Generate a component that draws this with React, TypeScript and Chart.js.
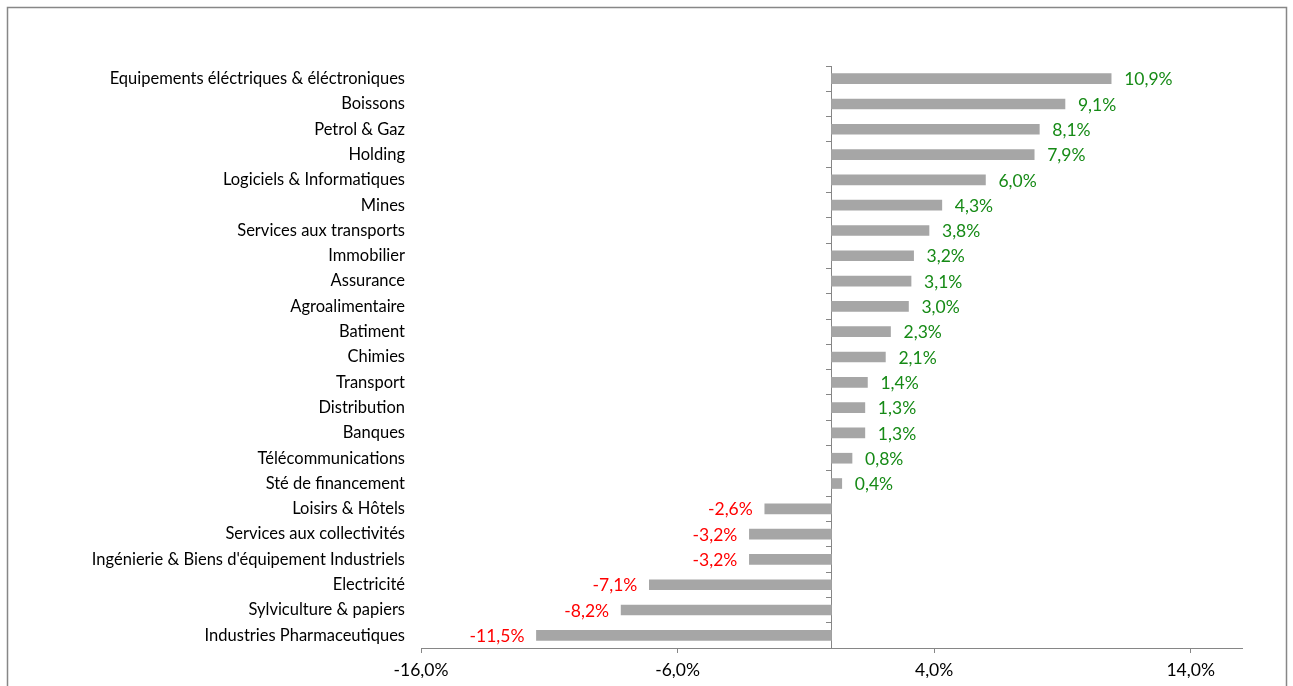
import React, { useEffect, useRef } from "react";
import { Chart, registerables } from "chart.js";

Chart.register(...registerables);

const categories: string[] = [
  "Equipements éléctriques & éléctroniques",
  "Boissons",
  "Petrol & Gaz",
  "Holding",
  "Logiciels & Informatiques",
  "Mines",
  "Services aux transports",
  "Immobilier",
  "Assurance",
  "Agroalimentaire",
  "Batiment",
  "Chimies",
  "Transport",
  "Distribution",
  "Banques",
  "Télécommunications",
  "Sté de financement",
  "Loisirs & Hôtels",
  "Services aux collectivités",
  "Ingénierie & Biens d'équipement Industriels",
  "Electricité",
  "Sylviculture & papiers",
  "Industries Pharmaceutiques",
];

const values: number[] = [
  10.9, 9.1, 8.1, 7.9, 6.0, 4.3, 3.8, 3.2, 3.1, 3.0, 2.3, 2.1, 1.4, 1.3, 1.3,
  0.8, 0.4, -2.6, -3.2, -3.2, -7.1, -8.2, -11.5,
];

const xTicks: number[] = [-16, -6, 4, 14];
const xMin = -16;
const xMax = 16;

const FONT = "Lato";
const fmt = (v: number) => v.toFixed(1).replace(".", ",") + "%";

const frame = {
  id: "frame",
  beforeDraw(chart: any) {
    const ctx = chart.ctx;
    ctx.save();
    ctx.fillStyle = "#ffffff";
    ctx.fillRect(0, 0, chart.width, chart.height);
    ctx.strokeStyle = "#878787";
    ctx.lineWidth = 1.5;
    ctx.strokeRect(7.5, 7.5, 1279, 700);
    ctx.restore();
  },
};

const dataLabels = {
  id: "dataLabels",
  afterDatasetsDraw(chart: any) {
    const ctx = chart.ctx;
    const meta = chart.getDatasetMeta(0);
    ctx.save();
    ctx.font = `17.5px ${FONT}`;
    ctx.textBaseline = "middle";
    meta.data.forEach((bar: any, i: number) => {
      const v = values[i];
      const t = fmt(v);
      if (v >= 0) {
        ctx.textAlign = "left";
        ctx.fillStyle = "#168a16";
        ctx.fillText(t, bar.x + 13, bar.y + 1);
      } else {
        ctx.textAlign = "right";
        ctx.fillStyle = "#ff0000";
        ctx.fillText(t, bar.x - 12, bar.y + 1);
      }
    });
    ctx.restore();
  },
};

export default function App() {
  const ref = useRef<HTMLCanvasElement | null>(null);
  useEffect(() => {
    if (!ref.current) return;
    const chart = new Chart(ref.current, {
      type: "bar",
      data: {
        labels: categories,
        datasets: [
          {
            data: values,
            backgroundColor: "#a6a6a6",
            borderWidth: 0,
            barThickness: 10,
            xAxisID: "x",
            yAxisID: "y",
          },
        ],
      },
      options: {
        indexAxis: "y",
        animation: false,
        responsive: true,
        maintainAspectRatio: false,
        layout: { padding: { top: 66, right: 51, bottom: 8, left: 0 } },
        plugins: { legend: { display: false }, tooltip: { enabled: false } },
        scales: {
          x: {
            type: "linear",
            position: "bottom",
            min: xMin,
            max: xMax,
            afterBuildTicks: (s: any) => {
              s.ticks = xTicks.map((value) => ({ value }));
            },
            afterFit: (s: any) => {
              s.height = 30;
            },
            grid: {
              drawOnChartArea: false,
              drawTicks: true,
              tickLength: 5,
              color: "#868686",
            },
            border: { display: true, color: "#868686", width: 1 },
            ticks: {
              padding: 7,
              color: "#000000",
              font: { family: FONT, size: 17.5 },
              callback: (v: any) => fmt(Number(v)),
              maxRotation: 0,
              autoSkip: false,
            },
          },
          y: {
            type: "category",
            position: "left",
            offset: true,
            afterFit: (s: any) => {
              s.width = 421;
            },
            grid: { display: false, drawTicks: false },
            border: { display: false },
            ticks: {
              padding: 16,
              color: "#000000",
              font: { family: FONT, size: 16.5 },
              autoSkip: false,
            },
          },
          y2: {
            type: "category",
            axis: "y",
            position: { x: 0 },
            offset: true,
            grid: {
              offset: true,
              drawOnChartArea: false,
              drawTicks: true,
              tickLength: 5,
              color: "#868686",
            },
            border: { display: true, color: "#868686", width: 1 },
            ticks: { display: false },
          },
        },
      },
      plugins: [frame, dataLabels],
    } as any);
    return () => chart.destroy();
  }, []);
  return (
    <div style={{ position: "fixed", left: 0, top: 0, width: 1293, height: 686 }}>
      <canvas ref={ref} />
    </div>
  );
}
